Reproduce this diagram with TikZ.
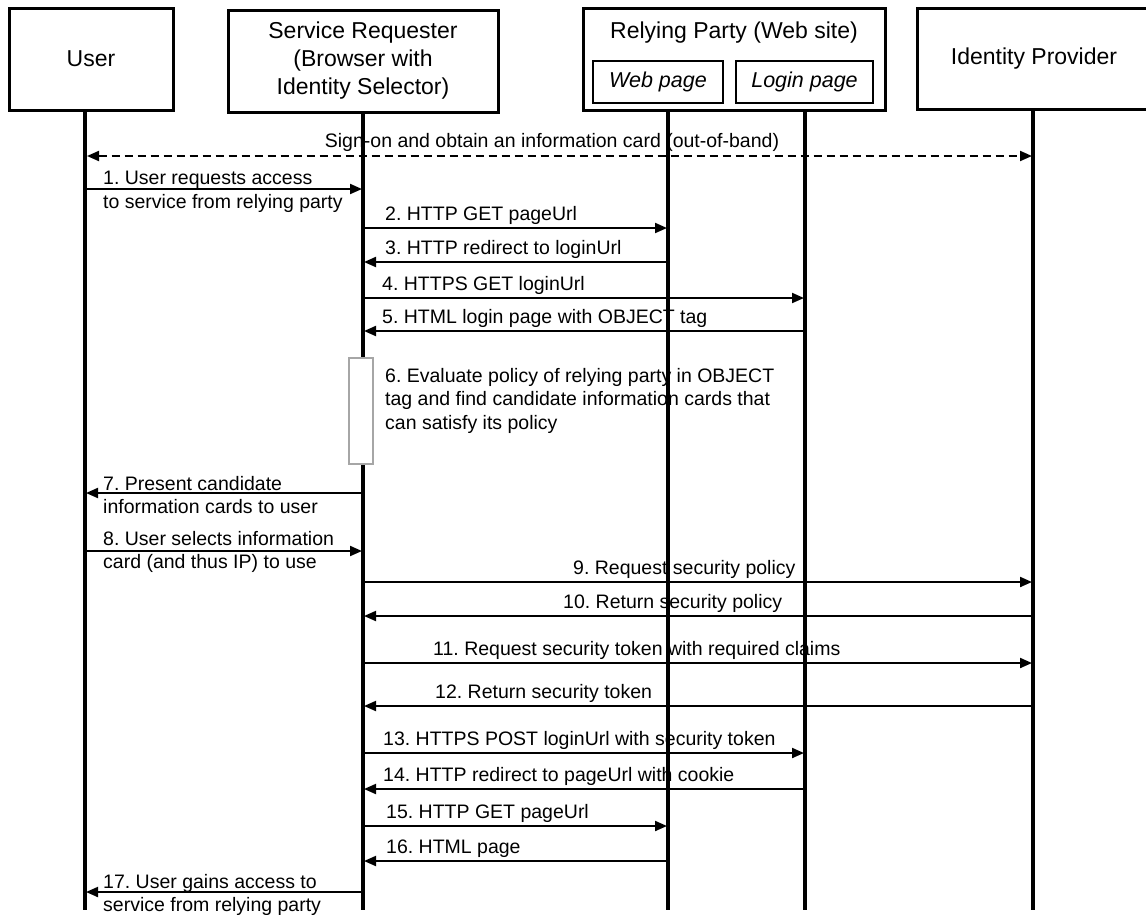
\documentclass[tikz,border=0pt]{standalone}
\usepackage{fontspec}
\setmainfont{Liberation Sans}
\frenchspacing
\usetikzlibrary{arrows.meta,positioning}

\begin{document}
\begin{tikzpicture}[
    x=1pt, y=-1pt,
    actor/.style={rectangle, draw, line width=3pt, align=center, font=\fontsize{23}{28}\selectfont},
    page/.style={rectangle, draw, line width=2.5pt, font=\fontsize{21.5}{26}\selectfont\itshape},
    lifeline/.style={line width=4pt},
    msg/.style={line width=2pt, -{Triangle[length=12pt,width=10pt]}, shorten >=1pt},
    msglabel/.style={inner sep=0pt, anchor=base west, font=\fontsize{19.5}{23.5}\selectfont},
    note/.style={inner sep=0pt, anchor=north west, align=left, font=\fontsize{19.5}{23.5}\selectfont},
    activation/.style={rectangle, draw=gray!70, fill=white, line width=1.5pt, minimum width=24pt, minimum height=106pt}
]
\useasboundingbox (0,0) rectangle (1146,914);

% Participants
\node[actor, minimum width=164pt, minimum height=102pt] (user-box) at (91,59) {User};
\node[actor, minimum width=270pt, minimum height=102pt] (sr-box) at (363,61) {Service Requester\\(Browser with\\Identity Selector)};
\node[actor, minimum width=302pt, minimum height=102pt] (rp-box) at (734,59) {};
\node[anchor=base, inner sep=0pt, font=\fontsize{23}{28}\selectfont] (rp-title) at (734,38) {Relying Party (Web site)};
\node[page, minimum width=130pt, minimum height=42pt] (web-page) at (658,82) {Web page};
\node[page, minimum width=137pt, minimum height=42pt] (login-page) at (804.5,82) {Login page};
\node[actor, minimum width=234pt, minimum height=101pt] (idp-box) at (1034,58.5) {Identity Provider};

% Lifelines
\foreach \name/\x in {user/85, sr/363, web/668, login/805, idp/1033} {
    \coordinate (\name-end) at (\x,910);
}
\draw[lifeline] (user-box.south -| user-end) -- (user-end);
\draw[lifeline] (sr-box.south -| sr-end) -- (sr-end);
\draw[lifeline] (rp-box.south -| web-end) -- (web-end);
\draw[lifeline] (rp-box.south -| login-end) -- (login-end);
\draw[lifeline] (idp-box.south -| idp-end) -- (idp-end);

% Out-of-band sign-on
\coordinate (row-0) at (0,156);
\draw[line width=2pt, dash pattern=on 8pt off 5pt, {Triangle[length=12pt,width=10pt]}-{Triangle[length=12pt,width=10pt]}, shorten <=2pt, shorten >=1pt]
    (user-end |- row-0) -- (idp-end |- row-0);
\node[msglabel, anchor=base] (signon-label) at (552,147) {Sign-on and obtain an information card (out-of-band)};

% Single-line messages
\foreach \n/\y/\from/\to/\x/\txt in {
    2/228/sr/web/385/{2. HTTP GET pageUrl},
    3/262/web/sr/385/{3. HTTP redirect to loginUrl},
    4/298/sr/login/382/{4. HTTPS GET loginUrl},
    5/331/login/sr/382/{5. HTML login page with OBJECT tag},
    9/582/sr/idp/573/{9. Request security policy},
    10/616/idp/sr/563/{10. Return security policy},
    11/663/sr/idp/433/{11. Request security token with required claims},
    12/706/idp/sr/435/{12. Return security token},
    13/753/sr/login/383/{13. HTTPS POST loginUrl with security token},
    14/789/login/sr/383/{14. HTTP redirect to pageUrl with cookie},
    15/826/sr/web/386/{15. HTTP GET pageUrl},
    16/861/web/sr/386/{16. HTML page}} {
    \coordinate (row-\n) at (0,\y);
    \draw[msg] (\from-end |- row-\n) -- (\to-end |- row-\n);
    \node[msglabel] (msg-\n) at (\x,\y-8) {\txt};
}

% Messages between user and browser
\coordinate (row-1) at (0,189);
\draw[msg] (user-end |- row-1) -- (sr-end |- row-1);
\node[note] (msg-1) at (103,171) {1. User requests access\\to service from relying party};

\coordinate (row-7) at (0,493);
\draw[msg] (sr-end |- row-7) -- (user-end |- row-7);
\node[note] (msg-7) at (103,476) {7. Present candidate\\information cards to user};

\coordinate (row-8) at (0,551);
\draw[msg] (user-end |- row-8) -- (sr-end |- row-8);
\node[note] (msg-8) at (103,531) {8. User selects information\\card (and thus IP) to use};

\coordinate (row-17) at (0,892);
\draw[msg] (sr-end |- row-17) -- (user-end |- row-17);
\node[note] (msg-17) at (103,874) {17. User gains access to\\service from relying party};

% Policy evaluation in the identity selector
\node[activation] (eval-box) at (361,411) {};
\node[note] (msg-6) at (385,368) {6. Evaluate policy of relying party in OBJECT\\tag and find candidate information cards that\\can satisfy its policy};

\end{tikzpicture}
\end{document}
